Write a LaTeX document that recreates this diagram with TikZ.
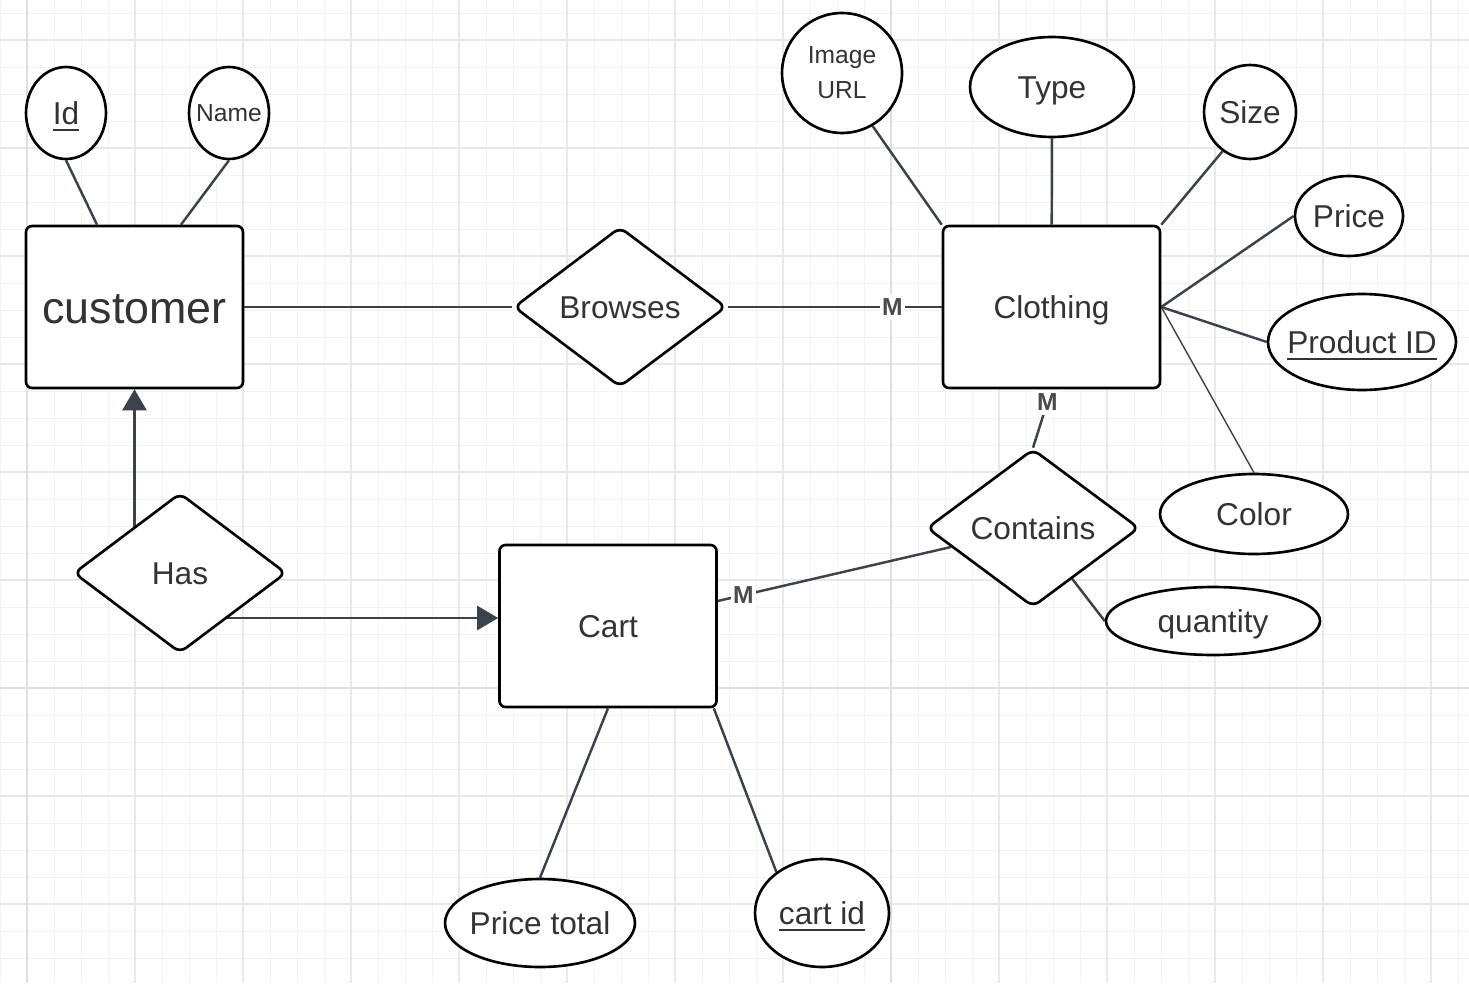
\documentclass[tikz,border=0pt]{standalone}
\usepackage{fontspec}
\setmainfont{Liberation Sans}
\usepackage{tikz}
\usetikzlibrary{arrows.meta,shapes.geometric,backgrounds}

\pgfdeclarelayer{grid}
\pgfsetlayers{grid,background,main}

\definecolor{linkgray}{HTML}{3B424C}
\definecolor{txtgray}{HTML}{333333}
\definecolor{cardgray}{HTML}{4A4A4A}

% underlined key attribute
\newcommand{\pkey}[1]{\setbox0\hbox{#1}\rlap{\rule[-0.22em]{\wd0}{0.06em}}\box0}

\tikzset{
  minorgrid/.style={draw=black!5, line width=0.5pt},
  majorgrid/.style={draw=black!9, line width=0.7pt},
  heavygrid/.style={draw=black!13, line width=0.9pt},
  txt/.style={text=txtgray, font=\fontsize{18}{21}\selectfont,
              text height=12.9pt, text depth=0pt},
  entity/.style={draw=black, fill=white, line width=1.5pt, rounded corners=0.12cm,
                 minimum width=4.34cm, minimum height=3.24cm, txt},
  relation/.style={diamond, aspect=1.5, draw=black, fill=white, line width=1.5pt,
                   rounded corners=0.15cm, inner sep=0pt, minimum width=4.25cm,
                   minimum height=3.2cm, txt},
  attr/.style={ellipse, draw=black, fill=white, line width=1.5pt, inner sep=0pt},
  every label/.style={txt},
  link/.style={draw=linkgray, line width=1.4pt},
  thinlink/.style={line width=0.8pt},
  arr/.style={-{Triangle[width=0.48cm,length=0.42cm]}, fill=linkgray},
  card/.style={fill=white, inner xsep=1.5pt, inner ysep=2.5pt, text=cardgray,
               text height=10pt, text depth=0pt, font=\bfseries\fontsize{14}{16}\selectfont}
}

\begin{document}
\begin{tikzpicture}[x=0.02cm, y=-0.02cm]
  \useasboundingbox (0,0) rectangle (1469,983);

  % background grid
  \begin{pgfonlayer}{grid}
    \fill[white] (0,0) rectangle (1469,983);
    \foreach \i in {0,...,54} \draw[minorgrid] (27*\i,0) -- (27*\i,983);
    \foreach \j in {0,...,35} \draw[minorgrid] (0,13+27*\j) -- (1469,13+27*\j);
    \foreach \i in {0,...,13} \draw[majorgrid] (27+108*\i,0) -- (27+108*\i,983);
    \foreach \j in {0,...,8} \draw[majorgrid] (0,40+108*\j) -- (1469,40+108*\j);
    \draw[heavygrid] (27,0) -- (27,983) (891,0) -- (891,983) (0,688) -- (1469,688);
  \end{pgfonlayer}

  % entities
  \node[entity, font=\fontsize{25.5}{30}\selectfont, text height=18.3pt] (customer) at (134.5,307) {customer};
  \node[entity]                                     (clothing) at (1051.5,307) {Clothing};
  \node[entity]                                     (cart)     at (608,626)    {Cart};

  % relationships
  \node[relation]                        (browses)  at (620,307)  {Browses};
  \node[relation]                        (has)      at (180,573)  {Has};
  \node[relation, minimum height=3.16cm] (contains) at (1033,528) {Contains};

  % attributes
  \node[attr, minimum width=1.6cm,  minimum height=1.84cm, label={center:\pkey{Id}}] (id) at (66,113) {};
  \node[attr, minimum width=1.6cm,  minimum height=1.84cm,
        label={[font=\fontsize{14}{17}\selectfont, text height=10pt]center:Name}] (name) at (229,113) {};
  \node[attr, minimum width=2.4cm,  minimum height=2.4cm,
        label={[align=center, text height={}, text depth={},
                font=\fontsize{14}{20}\selectfont]center:Image\\URL}] (imgurl) at (842,73) {};
  \node[attr, minimum width=3.28cm, minimum height=2.0cm,  label={center:Type}]         (type)   at (1052,87)  {};
  \node[attr, minimum width=1.84cm, minimum height=1.88cm, label={center:Size}]         (size)   at (1250,112) {};
  \node[attr, minimum width=2.16cm, minimum height=1.6cm,  label={center:Price}]        (price)  at (1349,216) {};
  \node[attr, minimum width=3.76cm, minimum height=1.92cm, label={center:\pkey{Product ID}}] (pid) at (1362,342) {};
  \node[attr, minimum width=3.76cm, minimum height=1.6cm,  label={center:Color}]        (color)  at (1254,514) {};
  \node[attr, minimum width=4.28cm, minimum height=1.36cm, label={center:quantity}]     (qty)    at (1213,621) {};
  \node[attr, minimum width=3.8cm,  minimum height=1.76cm, label={center:Price total}]  (ptotal) at (540,923)  {};
  \node[attr, minimum width=2.68cm, minimum height=2.16cm, label={center:\pkey{cart id}}] (cartid) at (822,913) {};

  \coordinate (cartin)  at ([yshift=0.16cm]cart.west);
  \coordinate (cartout) at ([yshift=0.5cm]cart.east);

  % connectors
  \begin{scope}[on background layer]
  \begin{scope}[link]
    \path (id.south)   edge ([xshift=-0.75cm]customer.north)
          (name.south) edge ([xshift=0.93cm]customer.north)
          (customer)   edge (browses)
          (browses)    edge node[card, pos=0.77] {M} (clothing)
          (imgurl.-60) edge (clothing.north west)
          (type)       edge (clothing)
          (size.235)   edge (clothing.north east)
          (price.west) edge (clothing.east)
          (pid.west)   edge (clothing.east)
          (color.north) edge [thinlink] (clothing.east)
          (clothing.south) edge node[card, pos=0.22] {M} (contains.north)
          (cartout)    edge node[card, pos=0.11] {M} (contains)
          (contains)   edge (qty.west)
          (cart.south) edge (ptotal.north)
          ([xshift=-0.08cm]cart.south east) edge (cartid.138)
          (has.center -| customer.south) edge [arr] (customer.south)
          (cartin -| has.center) edge [arr] (cartin);
  \end{scope}
  \end{scope}
\end{tikzpicture}
\end{document}
